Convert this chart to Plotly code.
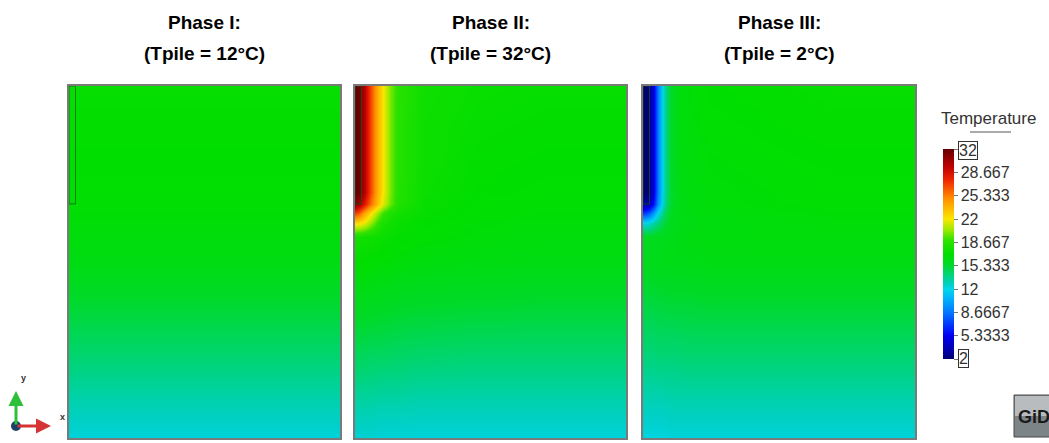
import plotly.graph_objects as go

W, H = 1049, 443

phase_titles = ["Phase I:", "Phase II:", "Phase III:"]
phase_subtitles = ["(Tpile = 12°C)", "(Tpile = 32°C)", "(Tpile = 2°C)"]

# horizontal distance from the pile axis and depth below ground (fractions of the section)
dist = [0, 0.011, 0.022, 0.037, 0.055, 0.081, 0.103, 0.13, 0.16, 0.25, 0.45, 0.7, 1.0]
depth = [0, 0.1, 0.2, 0.3, 0.335, 0.36, 0.39, 0.43, 0.5, 0.6, 0.75, 0.9, 1.0]

# pile geometry (fractions of the section)
pile_width = 0.024
pile_depth = 0.335

# undisturbed ground temperature with depth
ground_temp = [17.2, 17.1, 17.0, 16.9, 16.85, 16.8, 16.7, 16.6, 16.3, 15.5, 14.3, 13.0, 12.3]

temp_phase1 = [[t] * len(dist) for t in ground_temp]

temp_phase2 = [
    [32, 32, 31, 29.5, 27, 24, 22, 20, 18.6, 17.6, 17.3, 17.2, 17.2],
    [32, 32, 31, 29.5, 27, 24, 22, 20, 18.5, 17.5, 17.2, 17.1, 17.1],
    [32, 32, 31, 29.5, 27, 24, 22, 20, 18.5, 17.5, 17.1, 17.0, 17.0],
    [32, 32, 31, 29.5, 27, 24, 22, 20, 18.4, 17.4, 17.0, 16.9, 16.9],
    [31, 30.5, 29.5, 28, 26, 23.5, 21.5, 19.8, 18.3, 17.3, 16.9, 16.85, 16.85],
    [27, 26.5, 25.5, 24, 22.5, 20.5, 19, 18.2, 17.7, 17.2, 16.9, 16.8, 16.8],
    [22.5, 22.3, 22, 21.5, 20.5, 19, 18, 17.6, 17.3, 17.0, 16.8, 16.7, 16.7],
    [17.7, 17.7, 17.7, 17.6, 17.5, 17.4, 17.3, 17.2, 17.1, 16.9, 16.7, 16.6, 16.6],
    [17.0, 17.0, 17.0, 17.0, 16.9, 16.9, 16.8, 16.8, 16.7, 16.5, 16.4, 16.3, 16.3],
    [16.1, 16.1, 16.1, 16.1, 16.0, 16.0, 15.9, 15.9, 15.8, 15.7, 15.6, 15.5, 15.5],
    [14.7, 14.7, 14.7, 14.7, 14.6, 14.6, 14.6, 14.5, 14.5, 14.4, 14.3, 14.3, 14.3],
    [13.2, 13.2, 13.2, 13.2, 13.2, 13.1, 13.1, 13.1, 13.1, 13.0, 13.0, 13.0, 13.0],
    [12.4, 12.4, 12.4, 12.4, 12.4, 12.4, 12.3, 12.3, 12.3, 12.3, 12.3, 12.3, 12.3],
]

temp_phase3 = [
    [2, 2, 2.6, 4.5, 9, 13.5, 15.6, 16.4, 16.8, 17.0, 17.1, 17.2, 17.2],
    [2, 2, 2.6, 4.5, 9, 13.5, 15.6, 16.4, 16.7, 16.9, 17.0, 17.1, 17.1],
    [2, 2, 2.6, 4.5, 9, 13.5, 15.6, 16.3, 16.6, 16.8, 16.9, 17.0, 17.0],
    [2, 2, 2.6, 4.5, 9, 13.5, 15.5, 16.2, 16.5, 16.7, 16.8, 16.9, 16.9],
    [3, 3.2, 3.8, 5.5, 9.5, 13.6, 15.5, 16.2, 16.5, 16.7, 16.8, 16.85, 16.85],
    [7, 7.2, 7.8, 9.5, 12, 14.6, 15.8, 16.2, 16.4, 16.6, 16.7, 16.8, 16.8],
    [12, 12.1, 12.4, 13, 14, 15.3, 15.9, 16.2, 16.3, 16.5, 16.6, 16.7, 16.7],
    [15.8, 15.8, 15.8, 15.9, 16.0, 16.1, 16.2, 16.3, 16.4, 16.5, 16.6, 16.6, 16.6],
    [16.0, 16.0, 16.0, 16.0, 16.1, 16.1, 16.2, 16.2, 16.2, 16.3, 16.3, 16.3, 16.3],
    [15.2, 15.2, 15.2, 15.2, 15.3, 15.3, 15.4, 15.4, 15.4, 15.5, 15.5, 15.5, 15.5],
    [14.1, 14.1, 14.1, 14.1, 14.2, 14.2, 14.2, 14.2, 14.3, 14.3, 14.3, 14.3, 14.3],
    [12.9, 12.9, 12.9, 12.9, 12.9, 12.9, 13.0, 13.0, 13.0, 13.0, 13.0, 13.0, 13.0],
    [12.2, 12.2, 12.2, 12.2, 12.2, 12.2, 12.3, 12.3, 12.3, 12.3, 12.3, 12.3, 12.3],
]

fields = [temp_phase1, temp_phase2, temp_phase3]

t_min, t_max = 2, 32
tick_vals = [2, 5.3333, 8.6667, 12, 15.333, 18.667, 22, 25.333, 28.667, 32]
tick_text = ["", "5.3333", "8.6667", "12", "15.333", "18.667", "22", "25.333", "28.667", ""]

temperature_scale = [
    [0.0, "rgb(0,0,110)"],
    [0.0333, "rgb(0,0,160)"],
    [0.1111, "rgb(0,0,240)"],
    [0.15, "rgb(0,40,255)"],
    [0.2222, "rgb(0,120,255)"],
    [0.2889, "rgb(0,180,250)"],
    [0.3333, "rgb(0,215,235)"],
    [0.3533, "rgb(0,208,200)"],
    [0.4, "rgb(0,212,120)"],
    [0.45, "rgb(0,218,40)"],
    [0.5, "rgb(0,222,0)"],
    [0.5667, "rgb(50,226,0)"],
    [0.6167, "rgb(160,235,0)"],
    [0.6667, "rgb(250,230,0)"],
    [0.7667, "rgb(255,140,0)"],
    [0.85, "rgb(240,40,0)"],
    [0.9167, "rgb(190,0,0)"],
    [1.0, "rgb(100,0,0)"],
]

# panel placement in pixels (left, right), shared top/bottom
panel_px = [(69, 340), (355, 626), (643, 915)]
panel_top, panel_bottom = 86, 438


def px_x(v):
    return v / W


def px_y(v):
    return 1 - v / H


fig = go.Figure()
layout_axes = {}
shapes = []
annotations = []
font_family = "Liberation Sans, Arial, sans-serif"

for i, (field, (left, right)) in enumerate(zip(fields, panel_px)):
    n = "" if i == 0 else str(i + 1)
    fig.add_trace(go.Heatmap(
        x=dist, y=depth, z=field,
        coloraxis="coloraxis", zsmooth="best",
        xaxis="x" + n, yaxis="y" + n, hoverinfo="skip",
    ))
    layout_axes["xaxis" + n] = dict(
        domain=[px_x(left), px_x(right)], range=[0, 1], anchor="y" + n,
        showgrid=False, zeroline=False, showticklabels=False, ticks="",
        showline=True, mirror=True, linecolor="#7a7a7a", linewidth=1.5,
    )
    layout_axes["yaxis" + n] = dict(
        domain=[px_y(panel_bottom), px_y(panel_top)], range=[1, 0], anchor="x" + n,
        showgrid=False, zeroline=False, showticklabels=False, ticks="",
        showline=True, mirror=True, linecolor="#7a7a7a", linewidth=1.5,
    )
    # pile outline
    shapes.append(dict(
        type="rect", xref="x" + n, yref="y" + n,
        x0=0, x1=pile_width, y0=0, y1=pile_depth,
        line=dict(color="rgba(20,90,20,0.75)", width=1), fillcolor="rgba(0,0,0,0)",
    ))
    cx = px_x((left + right) / 2)
    annotations.append(dict(
        text="<b>%s</b>" % phase_titles[i], x=cx, y=px_y(22), xref="paper", yref="paper",
        showarrow=False, xanchor="center", yanchor="middle",
        font=dict(family=font_family, size=19, color="#000"),
    ))
    annotations.append(dict(
        text="<b>%s</b>" % phase_subtitles[i], x=cx, y=px_y(53), xref="paper", yref="paper",
        showarrow=False, xanchor="center", yanchor="middle",
        font=dict(family=font_family, size=19, color="#000"),
    ))

label_font = dict(family=font_family, size=16, color="#333")

# colour bar title and its underline
annotations.append(dict(
    text="Temperature", x=px_x(988), y=px_y(118), xref="paper", yref="paper",
    showarrow=False, xanchor="center", yanchor="middle",
    font=dict(family=font_family, size=17, color="#333"),
))
shapes.append(dict(type="line", xref="paper", yref="paper",
                   x0=px_x(970), x1=px_x(1011), y0=px_y(132), y1=px_y(132),
                   line=dict(color="#555", width=1)))

# boxed extreme labels
for val, ypix in ((t_max, 150), (t_min, 358)):
    annotations.append(dict(
        text=str(val), x=px_x(958), y=px_y(ypix), xref="paper", yref="paper",
        showarrow=False, xanchor="left", yanchor="middle",
        font=label_font, bordercolor="#333", borderwidth=1, borderpad=0,
    ))

# coordinate triad
annotations.append(dict(x=px_x(16), y=px_y(391), xref="paper", yref="paper", text="",
                        showarrow=True, ax=0, ay=35, arrowhead=2, arrowsize=1,
                        arrowwidth=3, arrowcolor="#2fbf3a", standoff=0))
annotations.append(dict(x=px_x(51), y=px_y(426), xref="paper", yref="paper", text="",
                        showarrow=True, ax=-35, ay=0, arrowhead=2, arrowsize=1,
                        arrowwidth=3, arrowcolor="#d63434", standoff=0))
shapes.append(dict(type="circle", xref="paper", yref="paper",
                   x0=px_x(11), x1=px_x(21), y0=px_y(431), y1=px_y(421),
                   fillcolor="#1f3f66", line=dict(width=0)))
annotations.append(dict(text="<b>y</b>", x=px_x(19), y=px_y(385), xref="paper", yref="paper",
                        showarrow=False, font=dict(family=font_family, size=9, color="#333")))
annotations.append(dict(text="<b>x</b>", x=px_x(58), y=px_y(424), xref="paper", yref="paper",
                        showarrow=False, font=dict(family=font_family, size=9, color="#333")))

# GiD badge
shapes.append(dict(type="rect", xref="paper", yref="paper",
                   x0=px_x(1014), x1=px_x(1060), y0=px_y(437), y1=px_y(395),
                   fillcolor="#7d8488", line=dict(color="#4a4a4a", width=1)))
shapes.append(dict(type="rect", xref="paper", yref="paper",
                   x0=px_x(1015), x1=px_x(1060), y0=px_y(416), y1=px_y(396),
                   fillcolor="#b8bcbf", line=dict(width=0)))
annotations.append(dict(text="<b>GiD</b>", x=px_x(1016), y=px_y(417), xref="paper", yref="paper",
                        showarrow=False, xanchor="left", yanchor="middle",
                        font=dict(family=font_family, size=18, color="#1a1a1a")))

fig.update_layout(
    width=W, height=H,
    margin=dict(l=0, r=0, t=0, b=0),
    paper_bgcolor="white", plot_bgcolor="white",
    showlegend=False,
    coloraxis=dict(
        colorscale=temperature_scale, cmin=t_min, cmax=t_max,
        colorbar=dict(
            thickness=11, thicknessmode="pixels",
            len=210, lenmode="pixels",
            x=px_x(943), xanchor="left", xpad=0,
            y=px_y(149), yanchor="top", ypad=0,
            tickvals=tick_vals, ticktext=tick_text,
            ticks="outside", ticklen=4, tickcolor="#777",
            tickfont=label_font, outlinewidth=0,
        ),
    ),
    shapes=shapes,
    annotations=annotations,
    **layout_axes,
)

fig.write_html("out.html")
